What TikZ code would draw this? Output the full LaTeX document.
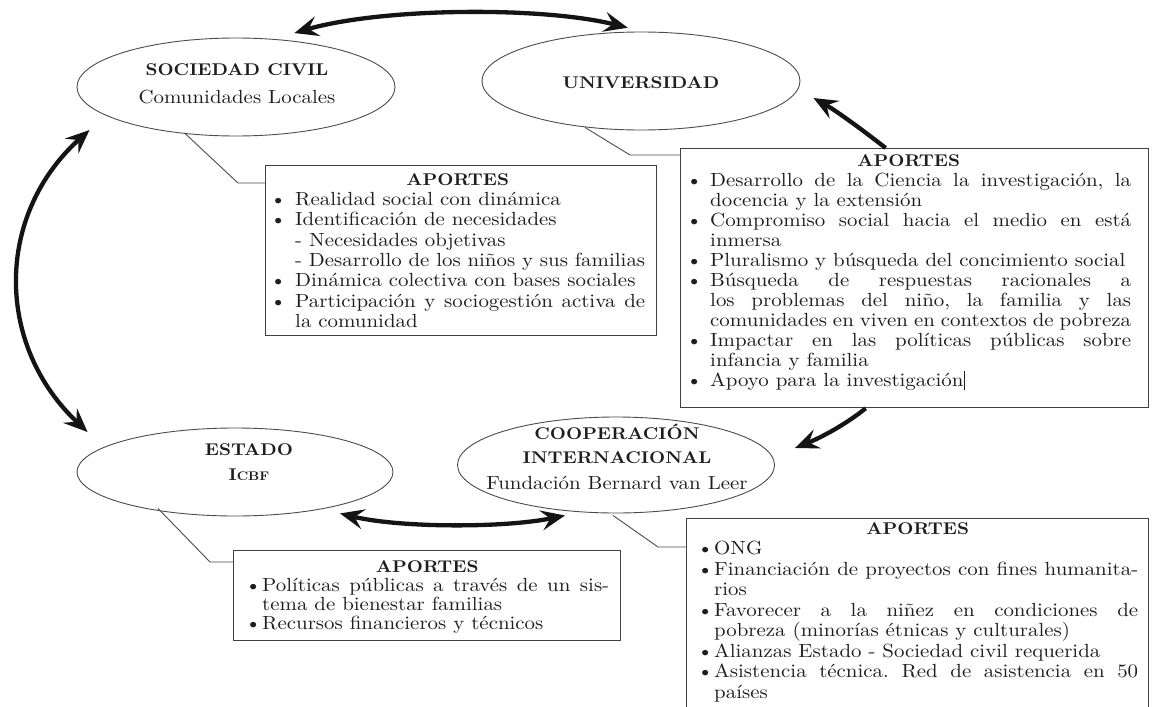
\documentclass[tikz,border=0pt]{standalone}
\usepackage{fontspec}
\setmainfont{lmroman10-regular.otf}[BoldFont=lmroman10-bold.otf,FakeStretch=1.1]
\usetikzlibrary{shapes.geometric,arrows.meta}
\frenchspacing
\newlength\bw
\newlength\bind
\newcommand\bodyfont{\fontsize{19}{20}\selectfont}
\newcommand\headfont{\fontsize{17}{20}\selectfont\bfseries}
\newcommand\bhead{\hbox to\bw{\hfil\headfont APORTES\hfil}}
\newcommand\bj[1]{\hbox to\bw{\hbox to\bind{\textbullet\hfil}#1}}
\newcommand\bl[1]{\hbox to\bw{\hbox to\bind{\textbullet\hfil}#1\hfil}}
\newcommand\cj[1]{\hbox to\bw{\hskip\bind #1}}
\newcommand\cl[1]{\hbox to\bw{\hskip\bind #1\hfil}}
\newcommand\boxtext[4]{\vbox{\frenchspacing\setlength\bw{#1}\setlength\bind{#2}\bodyfont\baselineskip=#3\lineskiplimit=-100pt\relax\hbox{}#4}}
\definecolor{ink}{RGB}{30,30,30}
\begin{document}
\begin{tikzpicture}[x=1pt,y=-1pt,
  every node/.style={inner sep=0pt,text=ink},
  ell/.style={draw=black!70,line width=0.9pt,ellipse},
  box/.style={draw=black!75,line width=1.3pt,rectangle,anchor=north west},
  callout/.style={draw=black!70,line width=0.9pt},
  title/.style={font=\headfont},
  sub/.style={font=\bodyfont},
  arr/.style={line width=4.3pt,draw=black!92,-{Stealth[length=24pt,width=20pt,inset=9pt]}},
  dbl/.style={line width=4.3pt,draw=black!92,{Stealth[length=24pt,width=20pt,inset=9pt]}-{Stealth[length=24pt,width=20pt,inset=9pt]}}]
\useasboundingbox[fill=white] (0,0) rectangle (1152,707);

% ellipses
\node[ell,minimum width=318pt,minimum height=98pt] (soc) at (236,87) {};
\node[ell,minimum width=318pt,minimum height=98pt] (uni) at (641,81) {};
\node[ell,minimum width=316pt,minimum height=88pt] (est) at (235,472) {};
\node[ell,minimum width=317pt,minimum height=96pt] (coop) at (616,465) {};

\node[title] (t1) at (237,70) {SOCIEDAD CIVIL};
\node[sub] (t2) at (237,97) {Comunidades Locales};
\node[title] (t3) at (641,83) {UNIVERSIDAD};
\node[title] (t4) at (249,450) {ESTADO};
\node[title] (t5) at (249,475) {I{\fontsize{12.5}{14}\selectfont CBF}};
\node[title] (t6) at (617,432) {COOPERACIÓN};
\node[title] (t7) at (617,458) {INTERNACIONAL};
\node[sub] (t8) at (617,483) {Fundación Bernard van Leer};

% boxes
\node[box,minimum width=391pt,minimum height=170pt] (b1) at (265,165) {};
\node[box,minimum width=468pt,minimum height=259pt] (b2) at (680,148) {};
\node[box,minimum width=387pt,minimum height=90pt] (b3) at (233,550) {};
\node[box,minimum width=462pt,minimum height=210pt] (b4) at (686,518) {};

% box texts
\node[anchor=north west] (b1t) at (270,164.7) {\boxtext{375pt}{25pt}{20.3pt}{%
\bhead
\bl{Realidad social con dinámica}
\bl{Identificación de necesidades}
\cl{-\ Necesidades objetivas}
\cl{-\ Desarrollo de los niños y sus familias}
\bl{Dinámica colectiva con bases sociales}
\bj{Participación y sociogestión activa de}
\cl{la comunidad}}};

\node[anchor=north west] (b2t) at (686,146) {\boxtext{445pt}{24pt}{20pt}{%
\bhead
\bj{Desarrollo de la Ciencia la investigación, la}
\cl{docencia y la extensión}
\bj{Compromiso social hacia el medio en está}
\cl{inmersa}
\bl{Pluralismo y búsqueda del concimiento social}
\bj{Búsqueda de respuestas racionales a}
\cj{los problemas del niño, la familia y las}
\cl{comunidades en viven en contextos de pobreza}
\bj{Impactar en las políticas públicas sobre}
\cl{infancia y familia}
\bl{Apoyo para la investigación\rule[-4pt]{1.6pt}{19pt}}}};

\node[anchor=north west] (b3t) at (245,553) {\boxtext{364pt}{17pt}{19pt}{%
\bhead
\bj{Políticas públicas a través de un sis-}
\cl{tema de bienestar familias}
\bl{Recursos financieros y técnicos}}};

\node[anchor=north west] (b4t) at (697,513.5) {\boxtext{441pt}{17pt}{20.5pt}{%
\bhead
\bl{ONG}
\bj{Financiación de proyectos con fines humanita-}
\cl{rios}
\bj{Favorecer a la niñez en condiciones de}
\cl{pobreza (minorías étnicas y culturales)}
\bl{Alianzas Estado - Sociedad civil requerida}
\bj{Asistencia técnica. Red de asistencia en 50}
\cl{países}}};

% callouts
\draw[callout] ([shift={(-51,-3)}]soc.south) -- ([shift={(-27,18)}]b1.north west) -- ([shift={(0,18)}]b1.north west);
\draw[callout] ([shift={(-56,-3)}]uni.south) -- ([shift={(-50,7)}]b2.north west) -- ([shift={(0,7)}]b2.north west);
\draw[callout] ([shift={(-77,-8)}]est.south) -- ([shift={(-23,12)}]b3.north west) -- ([shift={(0,12)}]b3.north west);
\draw[callout] ([shift={(-3,2)}]coop.south) -- ([shift={(-28,29)}]b4.north west) -- ([shift={(0,29)}]b4.north west);

% arrows
\draw[dbl] ([shift={(8,-7)}]soc.43) .. controls (380,8) and (540,6) .. ([shift={(0,-4)}]uni.105);
\draw[dbl] ([shift={(13,43)}]soc.west) .. controls (-5,215) and (-5,345) .. ([shift={(11,-40)}]est.west);
\draw[dbl] ([shift={(105,-3)}]est.south) .. controls (400,528) and (505,528) .. ([shift={(-51,2)}]coop.south);
\draw[arr] ([shift={(-29,0)}]b2.north) .. controls (860,128) and (835,110) .. ([shift={(13,17)}]uni.east);
\draw[arr] ([shift={(-49,0)}]b2.south) .. controls (845,425) and (820,438) .. ([shift={(20,-17)}]coop.east);
\end{tikzpicture}
\end{document}
